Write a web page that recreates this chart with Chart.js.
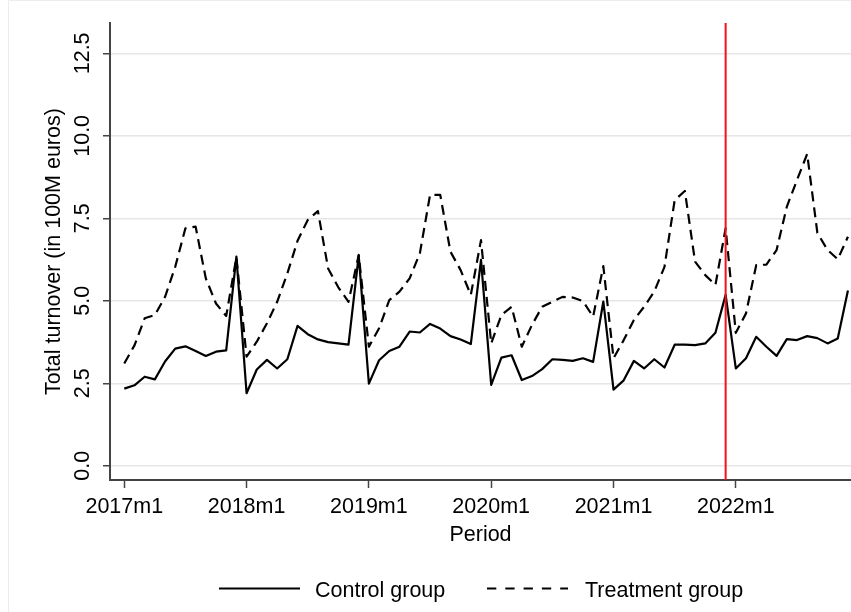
<!DOCTYPE html>
<html>
<head>
<meta charset="utf-8">
<script src="https://cdn.jsdelivr.net/npm/chart.js@4/dist/chart.umd.min.js"></script>
<style>
  html, body { margin: 0; padding: 0; background: #fff; }
  canvas { display: block; }
</style>
</head>
<body>
<canvas id="chart" width="851" height="612"></canvas>
<script>
// Monthly periods, 2017m1 .. 2022m12
const periods = [];
for (let yr = 2017; yr <= 2022; yr++) {
  for (let m = 1; m <= 12; m++) periods.push(yr + 'm' + m);
}

// Total turnover (in 100M euros)
const controlGroup = [
  2.34, 2.44, 2.70, 2.62, 3.16, 3.55, 3.62, 3.48, 3.33, 3.46, 3.50, 6.34,
  2.20, 2.92, 3.21, 2.95, 3.23, 4.24, 3.99, 3.83, 3.75, 3.71, 3.67, 6.37,
  2.49, 3.20, 3.48, 3.61, 4.07, 4.04, 4.30, 4.16, 3.93, 3.83, 3.69, 6.24,
  2.45, 3.28, 3.35, 2.60, 2.72, 2.93, 3.23, 3.21, 3.18, 3.26, 3.15, 4.98,
  2.31, 2.59, 3.18, 2.95, 3.23, 2.98, 3.67, 3.67, 3.66, 3.71, 4.03, 5.18,
  2.95, 3.26, 3.91, 3.61, 3.33, 3.84, 3.81, 3.93, 3.87, 3.71, 3.86, 5.31
];
const treatmentGroup = [
  3.10, 3.65, 4.47, 4.57, 5.12, 6.03, 7.20, 7.25, 5.68, 4.92, 4.54, 6.32,
  3.31, 3.76, 4.32, 4.97, 5.83, 6.82, 7.45, 7.72, 5.98, 5.41, 4.97, 6.39,
  3.61, 4.17, 5.02, 5.28, 5.68, 6.44, 8.21, 8.21, 6.49, 5.93, 5.18, 6.84,
  3.71, 4.57, 4.82, 3.61, 4.27, 4.82, 4.97, 5.12, 5.10, 4.99, 4.52, 6.05,
  3.26, 3.81, 4.42, 4.82, 5.28, 6.03, 8.05, 8.33, 6.19, 5.78, 5.48, 7.20,
  4.03, 4.62, 6.08, 6.10, 6.54, 7.85, 8.66, 9.45, 7.06, 6.54, 6.26, 6.94
];

const xTickPeriods = ['2017m1', '2018m1', '2019m1', '2020m1', '2021m1', '2022m1'];
const yTickValues = [0, 2.5, 5, 7.5, 10, 12.5];
const treatmentStart = '2021m12';
const seriesNames = ['Control group', 'Treatment group'];

const FONT = "'Liberation Sans', Arial, Helvetica, sans-serif";
const AXIS_COLOR = '#444';

const toPoints = arr => arr.map((v, i) => ({ x: i, y: v }));

// faint outer frame of the graph region
const framePlugin = {
  id: 'frame',
  beforeDraw(chart) {
    const ctx = chart.ctx;
    ctx.save();
    ctx.strokeStyle = '#ececec';
    ctx.lineWidth = 1;
    ctx.beginPath();
    ctx.moveTo(8.5, 612);
    ctx.lineTo(8.5, 0.5);
    ctx.lineTo(851, 0.5);
    ctx.stroke();
    ctx.restore();
  }
};

// vertical marker at the start of treatment
const markerPlugin = {
  id: 'marker',
  afterDatasetsDraw(chart) {
    const { ctx, chartArea, scales } = chart;
    const x = scales.x.getPixelForValue(periods.indexOf(treatmentStart));
    ctx.save();
    ctx.strokeStyle = '#f01414';
    ctx.lineWidth = 2;
    ctx.beginPath();
    ctx.moveTo(x, chartArea.top);
    ctx.lineTo(x, chartArea.bottom);
    ctx.stroke();
    ctx.restore();
  }
};

// legend row under the axis title
const legendPlugin = {
  id: 'legendRow',
  afterDraw(chart) {
    const ctx = chart.ctx;
    const items = [
      { x0: 219, x1: 300, tx: 315, dash: [] },
      { x0: 487, x1: 568, tx: 585, dash: [9.3, 9] }
    ];
    ctx.save();
    items.forEach((it, i) => {
      const ds = chart.data.datasets[i];
      ctx.strokeStyle = ds.borderColor;
      ctx.lineWidth = 2;
      ctx.setLineDash(it.dash);
      ctx.beginPath();
      ctx.moveTo(it.x0, 588.5);
      ctx.lineTo(it.x1, 588.5);
      ctx.stroke();
      ctx.setLineDash([]);
      ctx.fillStyle = '#000';
      ctx.font = '21.5px ' + FONT;
      ctx.textBaseline = 'alphabetic';
      ctx.textAlign = 'left';
      ctx.fillText(ds.label, it.tx, 597);
    });
    ctx.restore();
  }
};

new Chart(document.getElementById('chart'), {
  type: 'line',
  data: {
    datasets: [
      {
        label: seriesNames[0],
        data: toPoints(controlGroup),
        borderColor: '#000',
        borderWidth: 2.2
      },
      {
        label: seriesNames[1],
        data: toPoints(treatmentGroup),
        borderColor: '#000',
        borderWidth: 2.2,
        borderDash: [10, 6]
      }
    ]
  },
  options: {
    responsive: false,
    animation: false,
    devicePixelRatio: 1,
    layout: { padding: { top: 23, left: 0, right: 0, bottom: 0 } },
    plugins: { legend: { display: false }, tooltip: { enabled: false } },
    elements: {
      point: { radius: 0 },
      line: { tension: 0, borderJoinStyle: 'round', fill: false }
    },
    scales: {
      x: {
        type: 'linear',
        min: -1.4,
        max: 71.3,
        afterBuildTicks: s => { s.ticks = xTickPeriods.map(p => ({ value: periods.indexOf(p) })); },
        afterFit: s => { s.height = 132; },
        grid: { drawOnChartArea: false, drawTicks: true, tickLength: 8, tickColor: AXIS_COLOR, tickWidth: 1.5 },
        border: { display: true, color: AXIS_COLOR, width: 2 },
        ticks: {
          autoSkip: false, minRotation: 0, maxRotation: 0, padding: 6,
          color: '#000', font: { family: FONT, size: 21.5 },
          callback: v => periods[v]
        },
        title: {
          display: true, text: 'Period', color: '#000',
          font: { family: FONT, size: 21.5 }, padding: { top: 0, bottom: 64 }
        }
      },
      y: {
        min: -0.43,
        max: 13.42,
        afterBuildTicks: s => { s.ticks = yTickValues.map(v => ({ value: v })); },
        afterFit: s => { s.width = 110; },
        grid: { color: '#e6e6e6', lineWidth: 1.5, drawTicks: true, tickLength: 7, tickColor: AXIS_COLOR, tickWidth: 1.5 },
        border: { display: true, color: AXIS_COLOR, width: 2 },
        ticks: {
          autoSkip: false, minRotation: 90, maxRotation: 90, crossAlign: 'center', padding: -1,
          color: '#000', font: { family: FONT, size: 21.5 },
          callback: v => Number(v).toFixed(1)
        },
        title: {
          display: true, text: 'Total turnover (in 100M euros)', color: '#000',
          font: { family: FONT, size: 21.5 }, padding: { top: 41, bottom: 0 }
        }
      }
    }
  },
  plugins: [framePlugin, markerPlugin, legendPlugin]
});
</script>
</body>
</html>
